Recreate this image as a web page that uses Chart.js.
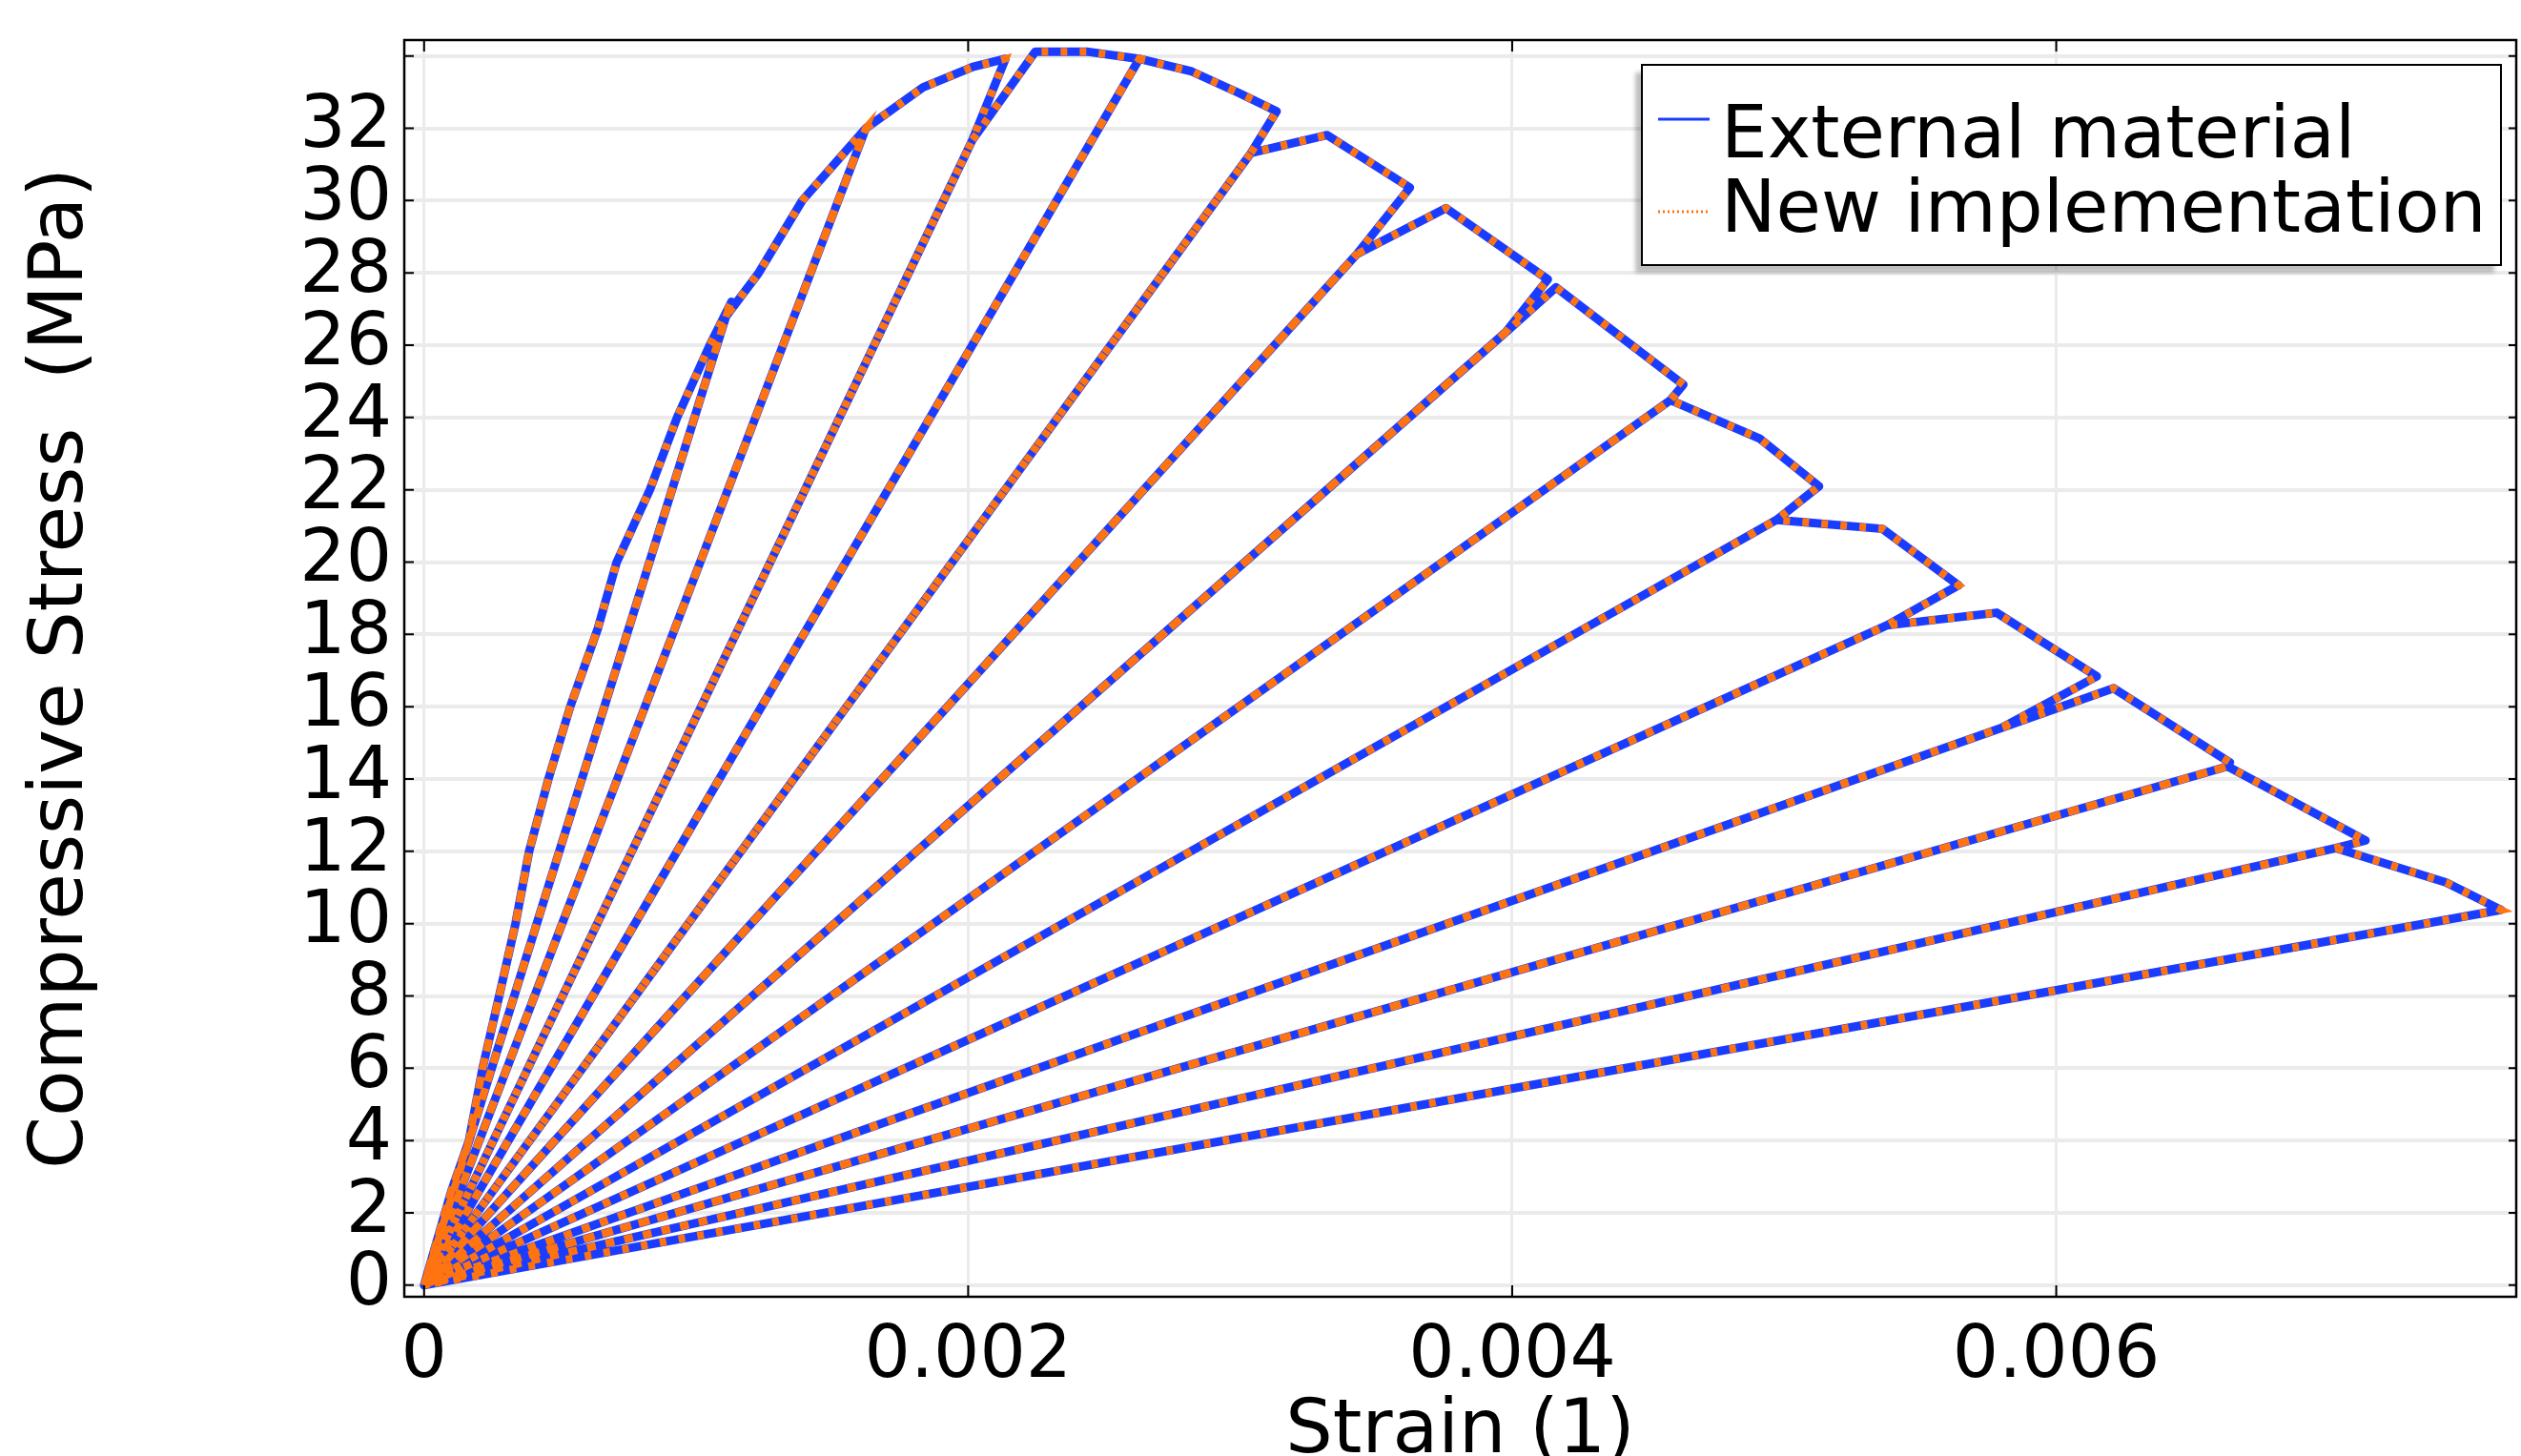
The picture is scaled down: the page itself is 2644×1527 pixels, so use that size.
<!DOCTYPE html>
<html>
<head>
<meta charset="utf-8">
<script src="https://cdn.jsdelivr.net/npm/chart.js@4.4.0/dist/chart.umd.min.js"></script>
<style>
html, body { margin: 0; padding: 0; background: #fff; }
</style>
</head>
<body>
<canvas id="myChart" width="2644" height="1527"></canvas>
<script>
// strain / stress path of the cyclic test
// (peak -> unloading -> origin -> reloading -> envelope again)
var strain = [
    0, 0.0001, 0.000165, 0.000215, 0.000276, 0.000336, 0.000386, 0.000457, 0.000537, 0.000638,
    0.000537, 0.000457, 0.000386, 0.000336, 0.000276, 0.000215, 0.000165, 0.0001, 0,
    0.0001, 0.000165, 0.000215, 0.000276, 0.000336, 0.000386, 0.000457, 0.000537, 0.000638,
    0.000708, 0.00083, 0.00093, 0.00105, 0.00113,
    0.00111, 0, 0.00111,
    0.00123, 0.00139, 0.001624,
    0, 0.001624,
    0.001834, 0.002017, 0.002137,
    0.002016, 0, 0.002016, 0.002247, 0.002436, 0.002629,
    0, 0.002629, 0.002822, 0.002997, 0.003134,
    0.003040, 0, 0.003040, 0.003320, 0.003624,
    0.003429, 0, 0.003429, 0.003757, 0.004131,
    0.003975, 0, 0.003975, 0.004161, 0.004629,
    0.004582, 0, 0.004582, 0.004909, 0.005128,
    0.004972, 0, 0.004972, 0.005361, 0.005641,
    0.005377, 0, 0.005377, 0.005781, 0.006149,
    0.005800, 0, 0.005800, 0.006211, 0.006638,
    0.006630, 0, 0.006630, 0.007137,
    0.007028, 0, 0.007028, 0.007433, 0.007635,
    0
]
var stressExternal = [
    0, 2.6, 4.0, 6.0, 8.0, 10.0, 12.0, 14.0, 16.0, 18.15,
    16.0, 14.0, 12.0, 10.0, 8.0, 6.0, 4.0, 2.6, 0,
    2.6, 4.0, 6.0, 8.0, 10.0, 12.0, 14.0, 16.0, 18.15,
    20.0, 22.0, 24.0, 26.0, 27.2,
    26.8, 0, 26.8,
    28.0, 30.0, 32.0,
    0, 32.0,
    33.13, 33.70, 33.92,
    31.68, 0, 31.68, 34.12, 34.12, 33.92,
    0, 33.92, 33.57, 32.97, 32.47,
    31.32, 0, 31.32, 31.81, 30.36,
    28.52, 0, 28.52, 29.79, 27.82,
    26.35, 0, 26.35, 27.60, 24.91,
    24.48, 0, 24.48, 23.42, 22.10,
    21.17, 0, 21.17, 20.92, 19.36,
    18.25, 0, 18.25, 18.60, 16.84,
    15.42, 0, 15.42, 16.51, 14.46,
    14.35, 0, 14.35, 12.30,
    12.09, 0, 12.09, 11.14, 10.38,
    0
]
// the new implementation lies on top of the external material curve
var stressNew = stressExternal.slice()

var xTicks = [0, 0.002, 0.004, 0.006]
var xTickLabels = ['0', '0.002', '0.004', '0.006']
var yTicks = [0, 2, 4, 6, 8, 10, 12, 14, 16, 18, 20, 22, 24, 26, 28, 30, 32, 34]
var yTickLabels = ['0', '2', '4', '6', '8', '10', '12', '14', '16', '18', '20', '22', '24', '26', '28', '30', '32', '']

var seriesNames = ['External material', 'New implementation']
var seriesColors = ['#1a3cff', '#ff7410']

function toPoints(xs, ys) {
    var pts = []
    for (var i = 0; i < xs.length; i++) pts.push({x: xs[i], y: ys[i]})
    return pts
}

var FONT = 'DejaVu Sans'

var framePlugin = {
    id: 'frame',
    afterDatasetsDraw: function(chart) {
        var ctx = chart.ctx
        var a = chart.chartArea
        var xs = chart.scales.x
        var ys = chart.scales.y
        ctx.save()
        ctx.strokeStyle = '#000'
        ctx.lineWidth = 2
        ctx.beginPath()
        xTicks.forEach(function(v) {
            var px = xs.getPixelForValue(v)
            ctx.moveTo(px, a.bottom); ctx.lineTo(px, a.bottom - 12)
            ctx.moveTo(px, a.top); ctx.lineTo(px, a.top + 12)
        })
        yTicks.forEach(function(v) {
            var py = ys.getPixelForValue(v)
            ctx.moveTo(a.left, py); ctx.lineTo(a.left + 10, py)
            ctx.moveTo(a.right, py); ctx.lineTo(a.right - 8, py)
        })
        ctx.stroke()
        ctx.lineWidth = 2.5
        ctx.strokeRect(a.left, a.top, a.right - a.left, a.bottom - a.top)

        // legend box, top right inside the plot
        var bx = a.right - 917, by = a.top + 26, bw = 901, bh = 210
        ctx.fillStyle = 'rgba(0,0,0,0.25)'
        ctx.filter = 'blur(2px)'
        ctx.fillRect(bx - 7, by + 8, bw, bh)
        ctx.filter = 'none'
        ctx.fillStyle = '#fff'
        ctx.fillRect(bx, by, bw, bh)
        ctx.lineWidth = 2
        ctx.strokeStyle = '#000'
        ctx.strokeRect(bx, by, bw, bh)

        ctx.lineWidth = 3
        ctx.strokeStyle = seriesColors[0]
        ctx.beginPath(); ctx.moveTo(bx + 17, by + 57); ctx.lineTo(bx + 71, by + 57); ctx.stroke()
        ctx.strokeStyle = seriesColors[1]
        ctx.setLineDash([2, 3])
        ctx.beginPath(); ctx.moveTo(bx + 17, by + 154); ctx.lineTo(bx + 71, by + 154); ctx.stroke()
        ctx.setLineDash([])

        ctx.fillStyle = '#000'
        ctx.font = '77px "' + FONT + '"'
        ctx.textBaseline = 'alphabetic'
        ctx.textAlign = 'left'
        ctx.fillText(seriesNames[0], bx + 83, by + 97)
        ctx.fillText(seriesNames[1], bx + 83, by + 175)
        ctx.restore()
    }
}

var myChart = document.getElementById('myChart').getContext('2d')
var chart = new Chart(myChart, {
    type: 'scatter',
    data: {
        datasets: [
            {
                label: seriesNames[0],
                data: toPoints(strain, stressExternal),
                showLine: true,
                borderColor: seriesColors[0],
                borderWidth: 9,
                borderJoinStyle: 'round',
                pointRadius: 0,
                tension: 0,
                order: 2
            },
            {
                label: seriesNames[1],
                data: toPoints(strain, stressNew),
                showLine: true,
                borderColor: seriesColors[1],
                borderWidth: 8,
                borderDash: [7, 13],
                borderCapStyle: 'butt',
                pointRadius: 0,
                tension: 0,
                order: 1
            }
        ]
    },
    options: {
        responsive: false,
        animation: false,
        devicePixelRatio: 1,
        layout: {padding: {top: 42, right: 5, left: 0, bottom: 0}},
        plugins: {legend: {display: false}, tooltip: {enabled: false}},
        scales: {
            x: {
                type: 'linear',
                min: -0.0000729,
                max: 0.007691,
                afterBuildTicks: function(s) { s.ticks = xTicks.map(function(v) { return {value: v} }) },
                afterFit: function(s) { s.height = 167; s.paddingLeft = 0; s.paddingRight = 0 },
                grid: {color: '#ebebeb', lineWidth: 3, drawTicks: false},
                border: {display: false},
                ticks: {
                    padding: 19, color: '#000', maxRotation: 0, autoSkip: false,
                    font: {family: FONT, size: 76},
                    callback: function(v, i) { return xTickLabels[i] }
                },
                title: {
                    display: true, text: 'Strain (1)', color: '#000',
                    font: {family: FONT, size: 78, lineHeight: 1},
                    padding: {top: 0, bottom: -15}
                }
            },
            y: {
                type: 'linear',
                min: -0.32,
                max: 34.44,
                afterBuildTicks: function(s) { s.ticks = yTicks.map(function(v) { return {value: v} }) },
                afterFit: function(s) { s.width = 424; s.paddingTop = 0; s.paddingBottom = 0 },
                grid: {color: '#ebebeb', lineWidth: 4, drawTicks: false},
                border: {display: false},
                ticks: {
                    padding: 13, color: '#000', autoSkip: false,
                    font: {family: FONT, size: 76},
                    callback: function(v, i) { return yTickLabels[i] }
                },
                title: {
                    display: true, text: 'Compressive Stress  (MPa)', color: '#000',
                    font: {family: FONT, size: 79, lineHeight: 1},
                    padding: {top: 26, bottom: 0}
                }
            }
        }
    },
    plugins: [framePlugin]
})
</script>
</body>
</html>
